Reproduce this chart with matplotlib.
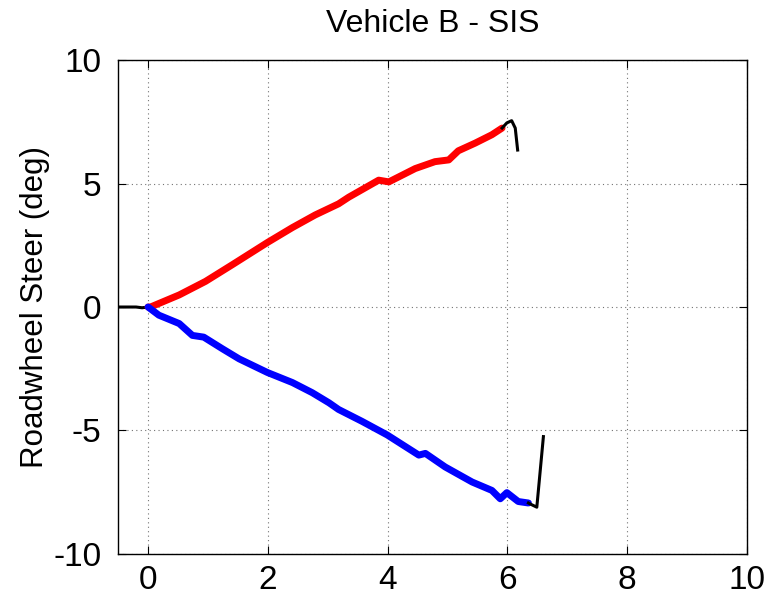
import numpy as np
import matplotlib
matplotlib.use("Agg")
from matplotlib import pyplot as plt

# pre-steer part (black)
pre_t = [-0.5, -0.35, -0.2, -0.1, 0.0]
pre_steer = [0.0, 0.0, 0.0, -0.03, 0.0]

# right steer (red) and its end (black)
right_t = [0.0, 0.04, 0.52, 0.96, 1.41, 1.99, 2.41, 2.79, 3.18, 3.35, 3.85, 4.02,
           4.46, 4.79, 5.02, 5.18, 5.46, 5.74, 5.91]
right_steer = [0.0, 0.0, 0.49, 1.04, 1.72, 2.61, 3.22, 3.73, 4.18, 4.45, 5.14, 5.07,
               5.61, 5.89, 5.96, 6.33, 6.64, 6.98, 7.25]
right_end_t = [5.91, 5.99, 6.07, 6.13, 6.17]
right_end_steer = [7.25, 7.46, 7.55, 7.25, 6.36]

# left steer (blue) and its end (black)
left_t = [0.0, 0.18, 0.52, 0.74, 0.93, 1.24, 1.52, 1.99, 2.41, 2.74, 3.02, 3.18,
          3.57, 3.99, 4.52, 4.63, 4.96, 5.41, 5.74, 5.88, 5.99, 6.18, 6.35]
left_steer = [0.0, -0.33, -0.67, -1.15, -1.22, -1.69, -2.1, -2.65, -3.06, -3.47, -3.88, -4.15,
              -4.63, -5.18, -6.0, -5.93, -6.48, -7.09, -7.43, -7.77, -7.52, -7.88, -7.94]
left_end_t = [6.35, 6.38, 6.49, 6.6]
left_end_steer = [-7.94, -7.98, -8.11, -5.25]

plt.rcParams['font.family'] = ['Liberation Sans', 'DejaVu Sans']
plt.rcParams['axes.unicode_minus'] = False

fig = plt.figure(figsize=(7.67, 6.02), dpi=100)
ax = fig.add_axes([0.154, 0.080, 0.820, 0.820])

ax.plot(pre_t, pre_steer, color='k', lw=2.2)
ax.plot(right_t, right_steer, color='r', lw=5, solid_capstyle='round')
ax.plot(left_t, left_steer, color='b', lw=5, solid_capstyle='round')
ax.plot(right_end_t, right_end_steer, color='k', lw=2.2)
ax.plot(left_end_t, left_end_steer, color='k', lw=2.2)

ax.set_xlim(-0.5, 10)
ax.set_ylim(-10, 10)
ax.set_xticks([0, 2, 4, 6, 8, 10])
ax.set_yticks([-10, -5, 0, 5, 10])
ax.grid(True, linestyle=(0, (1, 3)), color='0.45', lw=0.8)
ax.tick_params(direction='in', top=True, right=True, labelsize=24, length=6)
ax.tick_params(axis='y', pad=12)
ax.tick_params(axis='x', pad=8)
for s in ax.spines.values():
    s.set_linewidth(1.0)

ax.set_ylabel("Roadwheel Steer (deg)", fontsize=22.5, labelpad=2.5)
ax.set_title("Vehicle B - SIS", fontsize=23, pad=20)

plt.savefig("out.png", dpi=100)
